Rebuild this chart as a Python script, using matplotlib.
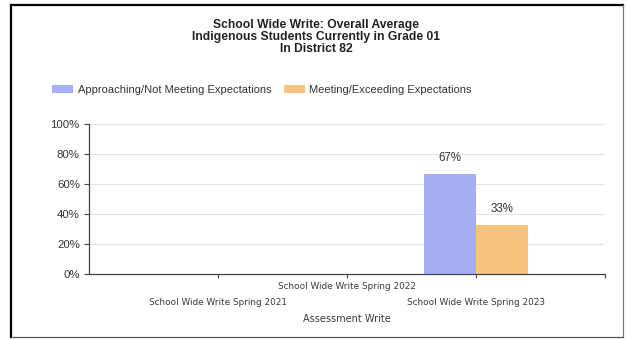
import matplotlib
matplotlib.use("Agg")
import matplotlib.pyplot as plt
from matplotlib.lines import Line2D
import numpy as np

plt.rcParams["font.family"] = ["Liberation Sans", "DejaVu Sans"]

# assessment windows and results (percent of students)
sessions = ["School Wide Write Spring 2021",
            "School Wide Write Spring 2022",
            "School Wide Write Spring 2023"]
approaching = [np.nan, np.nan, 67]
meeting = [np.nan, np.nan, 33]
series_names = ["Approaching/Not Meeting Expectations",
                "Meeting/Exceeding Expectations"]
title_lines = ["School Wide Write: Overall Average",
               "Indigenous Students Currently in Grade 01",
               "In District 82"]
yticks = [0, 20, 40, 60, 80, 100]

BLUE = "#a6aef5"
ORANGE = "#f8c27f"
TXT = "#333333"

W, H = 628, 339
fig = plt.figure(figsize=(W / 100, H / 100), dpi=100)
ax = fig.add_axes([89 / W, 1 - 274 / H, (605 - 89) / W, (274 - 124) / H])

x = np.arange(len(sessions))
bw = 0.4
b1 = ax.bar(x - bw / 2, approaching, bw, color=BLUE, label=series_names[0])
b2 = ax.bar(x + bw / 2, meeting, bw, color=ORANGE, label=series_names[1])

for bars, vals in [(b1, approaching), (b2, meeting)]:
    for rect, v in zip(bars, vals):
        if np.isnan(v):
            continue
        ax.annotate(f"{v:.0f}%", (rect.get_x() + rect.get_width() / 2, v),
                    xytext=(0, 7), textcoords="offset points",
                    ha="center", va="bottom", fontsize=8.3, color=TXT)

ax.set_xlim(-1, 3)
ax.set_ylim(0, 100)
ax.set_yticks(yticks)
ax.set_yticklabels([f"{t}%" for t in yticks])
ax.tick_params(axis="y", length=3.6, width=0.8, pad=3, labelsize=8.2,
               colors="#444444", labelcolor=TXT)

# staggered category labels: middle one on the first row, outer ones below
ax.xaxis.remove_overlapping_locs = False
ax.set_xticks([0, 1, 2, 3])
ax.set_xticklabels(["", sessions[1], "", ""])
ax.set_xticks([0, 2], minor=True)
ax.set_xticklabels([sessions[0], sessions[2]], minor=True)
ax.tick_params(axis="x", which="major", length=3, width=0.8, pad=2.5,
               labelsize=6.4, colors="#444444", labelcolor="#3a3a3a")
ax.tick_params(axis="x", which="minor", length=0, pad=17,
               labelsize=6.4, labelcolor="#3a3a3a")
for lab in ax.get_xticklabels(minor=True) + ax.get_xticklabels():
    lab.set_family("DejaVu Sans")
ax.set_xlabel("Assessment Write", fontsize=7, color="#3a3a3a",
              family="DejaVu Sans", labelpad=5.6)

ax.grid(axis="y", color="#e3e3e3", linewidth=0.8)
ax.set_axisbelow(True)
for s in ["top", "right"]:
    ax.spines[s].set_visible(False)
for s in ["left", "bottom"]:
    ax.spines[s].set_color("#444444")
    ax.spines[s].set_linewidth(0.9)

fig.text(316 / W, 1 - 19 / H, "\n".join(title_lines), ha="center", va="top",
         fontsize=8.7, fontweight="bold", color="#222222", linespacing=1.0)

fig.legend(handles=[b1, b2], labels=series_names, loc="center",
           bbox_to_anchor=(262 / W, 1 - 90 / H), ncol=2, frameon=False,
           fontsize=8, handlelength=1.9, handleheight=0.8,
           handletextpad=0.4, columnspacing=1.1, labelcolor=TXT)

# panel border: dark on top/left, lighter on right/bottom
fig.add_artist(Line2D([11 / W, 11 / W], [1 - 5 / H, 1 - 337 / H],
                      color="black", linewidth=1.6))
fig.add_artist(Line2D([11 / W, 623 / W], [1 - 5 / H, 1 - 5 / H],
                      color="black", linewidth=1.6))
fig.add_artist(Line2D([623 / W, 623 / W], [1 - 5 / H, 1 - 337 / H],
                      color="#777777", linewidth=0.9))
fig.add_artist(Line2D([11 / W, 623 / W], [1 - 337 / H, 1 - 337 / H],
                      color="#555555", linewidth=0.9))

fig.savefig("out.png", dpi=100)
